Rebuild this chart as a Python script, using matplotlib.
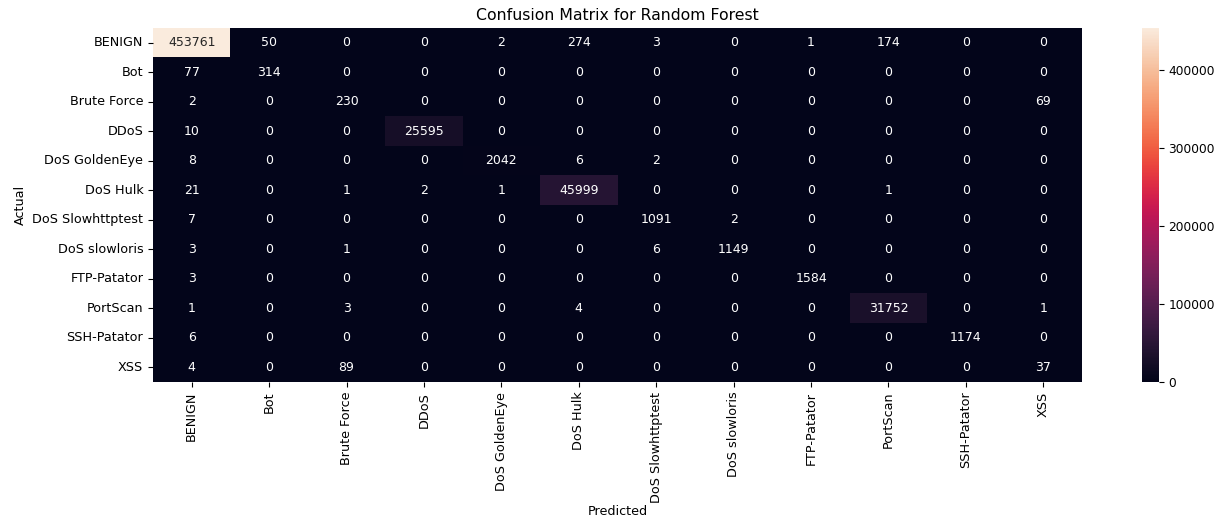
import matplotlib
matplotlib.use("Agg")
import matplotlib.pyplot as plt
import numpy as np
import seaborn as sns

labels = ["BENIGN", "Bot", "Brute Force", "DDoS", "DoS GoldenEye", "DoS Hulk",
          "DoS Slowhttptest", "DoS slowloris", "FTP-Patator", "PortScan",
          "SSH-Patator", "XSS"]

# rows = actual, columns = predicted
cm = np.array([
    [453761, 50, 0, 0, 2, 274, 3, 0, 1, 174, 0, 0],
    [77, 314, 0, 0, 0, 0, 0, 0, 0, 0, 0, 0],
    [2, 0, 230, 0, 0, 0, 0, 0, 0, 0, 0, 69],
    [10, 0, 0, 25595, 0, 0, 0, 0, 0, 0, 0, 0],
    [8, 0, 0, 0, 2042, 6, 2, 0, 0, 0, 0, 0],
    [21, 0, 1, 2, 1, 45999, 0, 0, 0, 1, 0, 0],
    [7, 0, 0, 0, 0, 0, 1091, 2, 0, 0, 0, 0],
    [3, 0, 1, 0, 0, 0, 6, 1149, 0, 0, 0, 0],
    [3, 0, 0, 0, 0, 0, 0, 0, 1584, 0, 0, 0],
    [1, 0, 3, 0, 0, 4, 0, 0, 0, 31752, 0, 1],
    [6, 0, 0, 0, 0, 0, 0, 0, 0, 0, 1174, 0],
    [4, 0, 89, 0, 0, 0, 0, 0, 0, 0, 0, 37],
])

plt.rcParams['font.size'] = 9.2

fig = plt.figure(figsize=(12.2, 5.22), dpi=100)
ax = fig.add_axes([0.1254, 0.2682, 0.7615, 0.6782])
cax = fig.add_axes([0.936, 0.2682, 0.0139, 0.6782])

sns.heatmap(cm, annot=True, fmt="d", ax=ax, cbar_ax=cax,
            xticklabels=labels, yticklabels=labels,
            annot_kws={"size": 9})
ax.set_title("Confusion Matrix for Random Forest", fontsize=11.3, pad=6)
ax.set_xlabel("Predicted", labelpad=2)
ax.set_ylabel("Actual")
ax.set_xticklabels(labels, rotation=90)
ax.set_yticklabels(labels, rotation=0)
cax.tick_params(labelsize=8.8)

fig.savefig("out.png", dpi=100)
